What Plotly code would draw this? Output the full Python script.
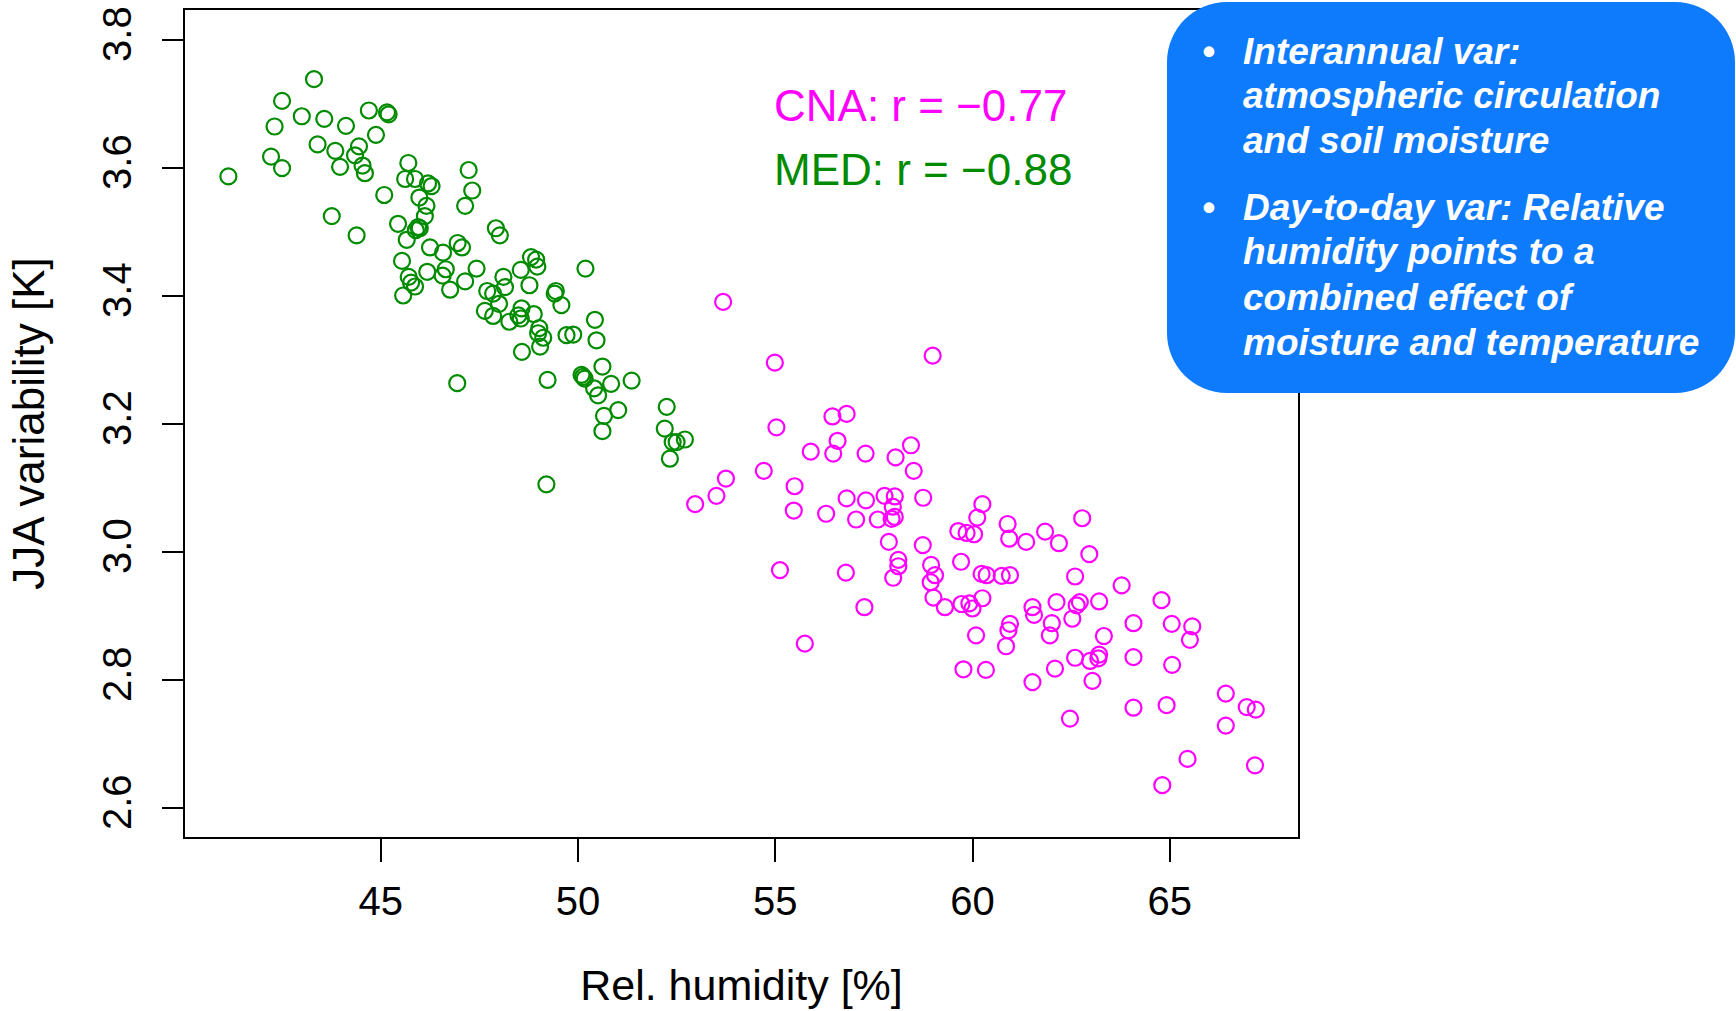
import plotly.graph_objects as go

# ---------------- data ----------------
med_x = [43.31, 42.50, 43.00, 43.57, 42.31, 44.12, 44.70, 45.16, 45.20, 43.40,
         43.85, 44.45, 44.35, 44.88, 42.22, 42.50, 41.14, 43.97, 44.54, 44.60,
         45.09, 43.76, 44.39, 45.70, 45.62, 45.87, 46.20, 46.29, 45.98, 46.16,
         46.12, 47.23, 47.32, 47.14, 45.44, 45.95, 45.89, 45.99, 45.66, 47.92,
         48.02, 46.25, 46.58, 46.95, 47.06, 45.54, 46.65, 46.18, 46.57, 45.71,
         45.77, 45.87, 45.57, 46.76, 47.14, 47.43, 48.11, 47.70, 47.85, 48.15,
         48.00, 47.64, 47.85, 48.26, 48.55, 48.81, 48.94, 48.97, 48.77, 48.57,
         48.49, 48.88, 48.55, 49.44, 49.41, 49.58, 49.02, 48.99, 49.12, 49.04,
         48.58, 49.71, 49.88, 50.19, 50.43, 50.47, 49.23, 46.94, 50.09, 50.13,
         50.17, 50.62, 50.84, 51.36, 50.41, 50.51, 51.02, 50.66, 50.62, 52.25,
         52.20, 52.40, 52.50, 52.71, 52.33, 49.20]
med_y = [3.739, 3.705, 3.681, 3.677, 3.665, 3.666, 3.690, 3.687, 3.684, 3.637,
         3.627, 3.634, 3.620, 3.652, 3.618, 3.600, 3.587, 3.602, 3.604, 3.592,
         3.558, 3.525, 3.495, 3.608, 3.583, 3.583, 3.576, 3.572, 3.554, 3.541,
         3.525, 3.597, 3.565, 3.541, 3.513, 3.508, 3.503, 3.506, 3.488, 3.506,
         3.495, 3.476, 3.468, 3.483, 3.476, 3.455, 3.442, 3.438, 3.432, 3.430,
         3.421, 3.415, 3.401, 3.410, 3.423, 3.443, 3.430, 3.408, 3.404, 3.414,
         3.388, 3.377, 3.369, 3.360, 3.441, 3.461, 3.457, 3.446, 3.417, 3.381,
         3.370, 3.372, 3.365, 3.408, 3.404, 3.386, 3.350, 3.342, 3.335, 3.321,
         3.313, 3.339, 3.340, 3.443, 3.363, 3.331, 3.269, 3.264, 3.277, 3.274,
         3.271, 3.290, 3.263, 3.268, 3.256, 3.245, 3.222, 3.213, 3.189, 3.227,
         3.193, 3.172, 3.172, 3.176, 3.146, 3.106]

cna_x = [53.68, 54.99, 58.99, 55.03, 56.45, 56.81, 56.58, 55.90, 56.47, 57.29,
         58.05, 58.44, 58.51, 53.75, 54.71, 53.51, 52.97, 55.49, 55.47, 56.29,
         56.81, 57.30, 57.05, 57.60, 57.77, 58.03, 57.98, 57.95, 58.03, 58.75,
         57.88, 58.74, 55.12, 56.79, 58.12, 58.12, 57.99, 57.26, 55.75, 58.95,
         59.05, 58.94, 59.01, 59.30, 59.72, 59.92, 60.00, 60.25, 59.71, 59.64,
         59.85, 60.04, 60.12, 60.25, 60.23, 60.36, 60.09, 59.77, 60.34,
         60.74, 60.95, 60.93, 60.89, 61.36, 61.84, 62.19, 62.78, 62.96, 62.60,
         63.78, 64.79, 64.08, 65.05, 65.57, 65.51, 61.52, 61.56, 62.13, 62.53,
         62.64, 62.72, 63.21, 62.01, 61.96, 63.33, 60.95, 60.91, 60.85, 61.52,
         62.09, 62.60, 62.98, 63.21, 63.19, 63.04, 64.08, 65.06, 62.47, 64.08,
         64.92, 66.42, 66.42, 66.95, 67.18, 65.45, 64.81, 67.16]
cna_y = [3.391, 3.296, 3.307, 3.195, 3.212, 3.216, 3.174, 3.157, 3.154, 3.154,
         3.148, 3.167, 3.127, 3.115, 3.127, 3.088, 3.075, 3.103, 3.065, 3.060,
         3.084, 3.081, 3.051, 3.051, 3.088, 3.087, 3.071, 3.052, 3.055, 3.085,
         3.016, 3.011, 2.972, 2.968, 2.988, 2.978, 2.960, 2.914, 2.857, 2.980,
         2.964, 2.953, 2.929, 2.914, 2.919, 2.920, 2.912, 2.928, 2.985, 3.033,
         3.030, 3.028, 3.054, 3.075, 2.966, 2.964, 2.870, 2.817, 2.816,
         2.963, 2.964, 3.021, 3.044, 3.016, 3.032, 3.014, 3.053, 2.997, 2.962,
         2.948, 2.925, 2.889, 2.888, 2.884, 2.863, 2.914, 2.902, 2.922, 2.896,
         2.917, 2.922, 2.923, 2.889, 2.870, 2.869, 2.888, 2.878, 2.853, 2.797,
         2.818, 2.835, 2.830, 2.840, 2.834, 2.799, 2.836, 2.824, 2.740, 2.757,
         2.761, 2.779, 2.729, 2.758, 2.754, 2.677, 2.636, 2.667]

x_ticks = [45, 50, 55, 60, 65]
y_ticks = [2.6, 2.8, 3.0, 3.2, 3.4, 3.6, 3.8]

box_lines_1 = ["Interannual var:", "atmospheric circulation", "and soil moisture"]
box_lines_2 = ["Day-to-day var: Relative", "humidity points to a",
               "combined effect of", "moisture and temperature"]

# ---------------- layout helpers ----------------
W, H = 1736, 1011
L, R, T, B = 185, 1298, 10, 837
FONT = "Liberation Sans, Arial, Helvetica, sans-serif"
GREEN = "#008B00"
MAGENTA = "#FF00FF"
BLUE = "#0E7BFD"


def px(x):
    return (x - L) / (R - L)


def py(y):
    return (B - y) / (B - T)


fig = go.Figure()
fig.add_trace(go.Scatter(
    x=med_x, y=med_y, mode="markers", name="MED",
    marker=dict(symbol="circle-open", size=16, color=GREEN,
                line=dict(width=2.2, color=GREEN))))
fig.add_trace(go.Scatter(
    x=cna_x, y=cna_y, mode="markers", name="CNA",
    marker=dict(symbol="circle-open", size=16, color=MAGENTA,
                line=dict(width=2.2, color=MAGENTA))))

axis_common = dict(
    showgrid=False, zeroline=False, showline=True, linewidth=2,
    linecolor="black", mirror=True, ticks="outside", tickwidth=2,
    tickcolor="black", tickfont=dict(family=FONT, size=40, color="black"),
)

fig.update_layout(
    width=W, height=H,
    margin=dict(l=L, r=W - R, t=T, b=H - B, autoexpand=False),
    paper_bgcolor="white", plot_bgcolor="white",
    showlegend=False,
    font=dict(family=FONT, color="black"),
    xaxis=dict(range=[40.04, 68.25], tickvals=x_ticks, ticklen=23,
               ticklabelstandoff=5,
               title=dict(text="Rel. humidity [%]",
                          font=dict(family=FONT, size=43, color="black"),
                          standoff=48),
               **axis_common),
    yaxis=dict(range=[2.555, 3.847], tickvals=y_ticks, tickformat=".1f",
               ticklen=21, tickangle=-90, ticklabelstandoff=15,
               title=dict(text="JJA variability [K]",
                          font=dict(family=FONT, size=44, color="black"),
                          standoff=37),
               **axis_common),
)

# correlation labels
fig.add_annotation(xref="paper", yref="paper", x=px(772), y=py(105),
                   xanchor="left", yanchor="middle", showarrow=False,
                   text="CNA: r = \u22120.77",
                   font=dict(family=FONT, size=44, color=MAGENTA))
fig.add_annotation(xref="paper", yref="paper", x=px(772), y=py(169),
                   xanchor="left", yanchor="middle", showarrow=False,
                   text="MED: r = \u22120.88",
                   font=dict(family=FONT, size=44, color=GREEN))

# rounded blue box
bx0, bx1, by0, by1, rr = 1167, 1735, 2, 393, 60
k = 0.5523 * rr


def P(x, y):
    return f"{px(x):.5f},{py(y):.5f}"


path = (f"M {P(bx0 + rr, by0)} L {P(bx1 - rr, by0)} "
        f"C {P(bx1 - rr + k, by0)} {P(bx1, by0 + rr - k)} {P(bx1, by0 + rr)} "
        f"L {P(bx1, by1 - rr)} "
        f"C {P(bx1, by1 - rr + k)} {P(bx1 - rr + k, by1)} {P(bx1 - rr, by1)} "
        f"L {P(bx0 + rr, by1)} "
        f"C {P(bx0 + rr - k, by1)} {P(bx0, by1 - rr + k)} {P(bx0, by1 - rr)} "
        f"L {P(bx0, by0 + rr)} "
        f"C {P(bx0, by0 + rr - k)} {P(bx0 + rr - k, by0)} {P(bx0 + rr, by0)} Z")
fig.add_shape(type="path", xref="paper", yref="paper", path=path,
              fillcolor=BLUE, line=dict(width=0), layer="above")

box_font = dict(family=FONT, size=37, color="white", weight="bold", style="italic")
line_mid_1 = [52, 95, 140]
line_mid_2 = [207, 252, 297, 342]
for txt, ym in zip(box_lines_1, line_mid_1):
    fig.add_annotation(xref="paper", yref="paper", x=px(1241), y=py(ym),
                       xanchor="left", yanchor="middle", showarrow=False,
                       text=txt, font=box_font)
for txt, ym in zip(box_lines_2, line_mid_2):
    fig.add_annotation(xref="paper", yref="paper", x=px(1241), y=py(ym),
                       xanchor="left", yanchor="middle", showarrow=False,
                       text=txt, font=box_font)
for ym in (line_mid_1[0], line_mid_2[0]):
    fig.add_annotation(xref="paper", yref="paper", x=px(1208), y=py(ym),
                       xanchor="center", yanchor="middle", showarrow=False,
                       text="\u2022", font=box_font)

fig.write_html("out.html")
